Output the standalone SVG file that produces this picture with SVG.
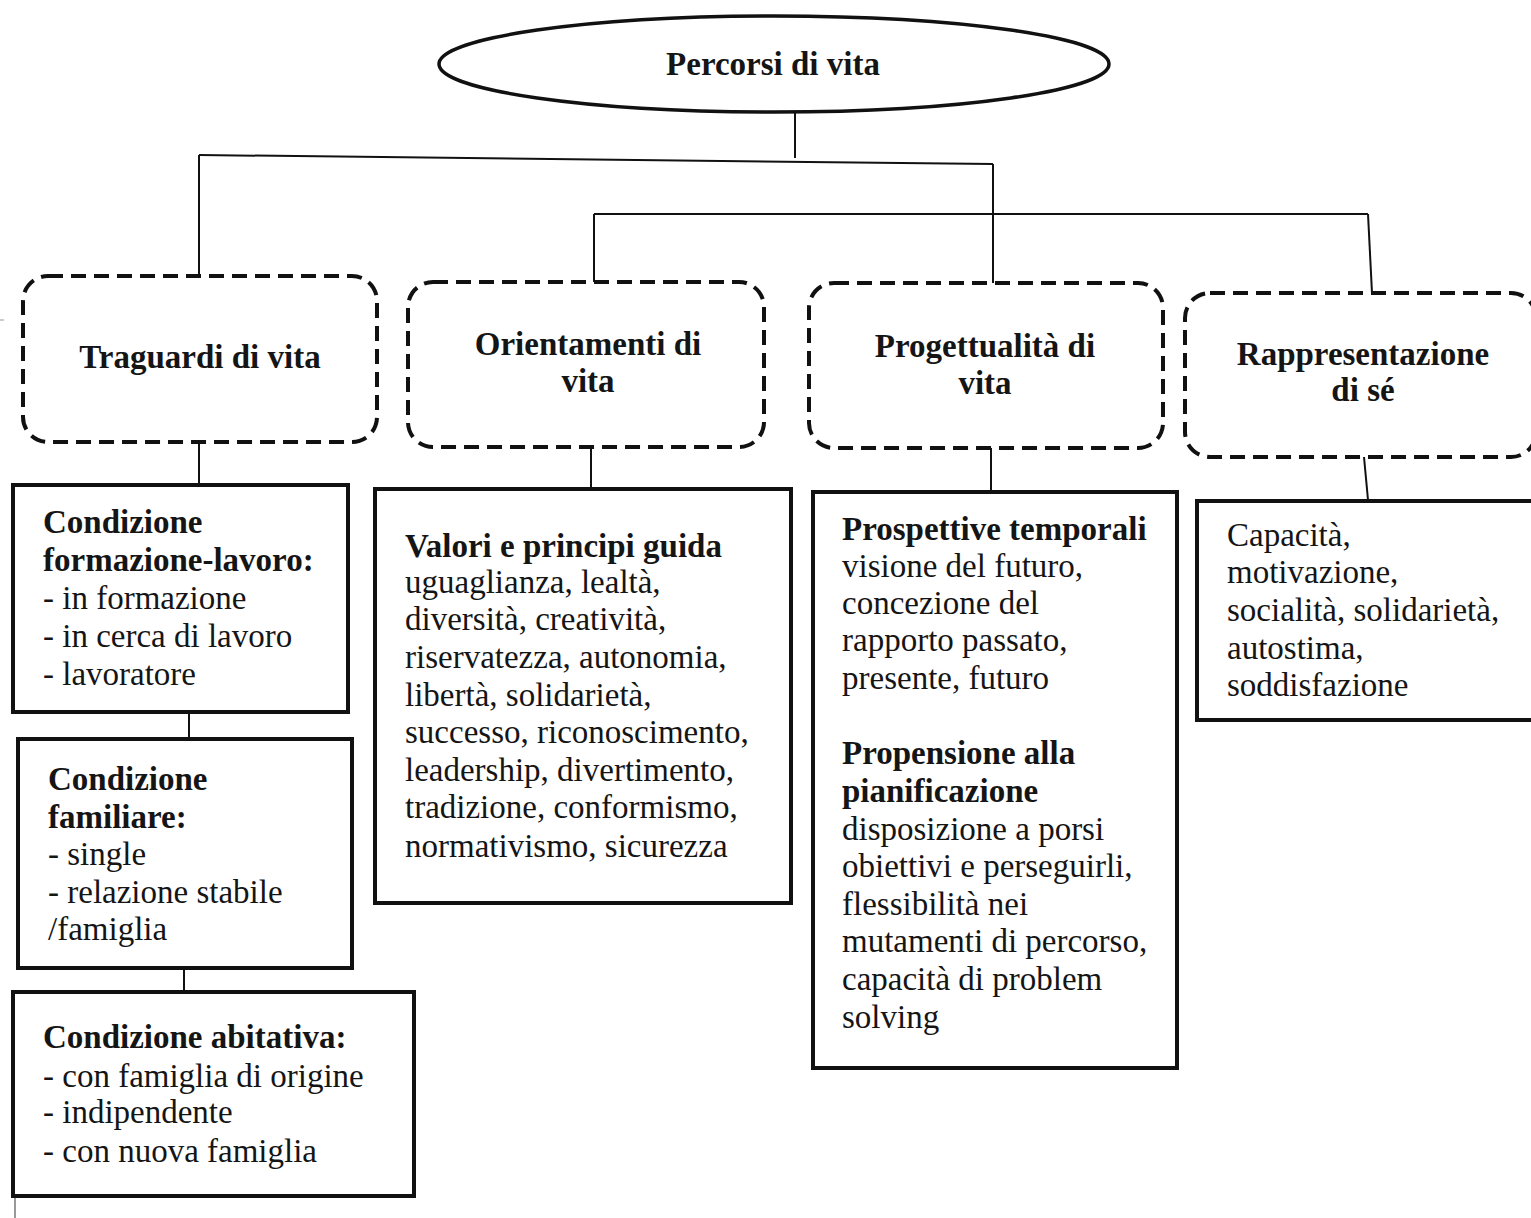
<svg xmlns="http://www.w3.org/2000/svg" width="1531" height="1218" viewBox="0 0 1531 1218">
<style>
text{font-family:"Liberation Serif","Times New Roman",serif;font-size:33px;fill:#151515}
.b{font-weight:bold}
.c{text-anchor:middle}
.dash{fill:#fff;stroke:#111;stroke-width:4;stroke-dasharray:15 8}
.box{fill:#fff;stroke:#111;stroke-width:4}
.ln{fill:none;stroke:#111;stroke-width:2}
</style>
<rect width="1531" height="1218" fill="#fff"/>
<g id="connectors">
<line class="ln" x1="795" y1="113" x2="795" y2="158"/>
<line class="ln" x1="199" y1="155" x2="993" y2="164"/>
<line class="ln" x1="199" y1="155" x2="199" y2="275"/>
<line class="ln" x1="993" y1="164" x2="993" y2="283"/>
<line class="ln" x1="594" y1="214" x2="1368" y2="214"/>
<line class="ln" x1="594" y1="214" x2="594" y2="282"/>
<line class="ln" x1="1368" y1="214" x2="1372" y2="293"/>
<line class="ln" x1="199" y1="442" x2="199" y2="487"/>
<line class="ln" x1="591" y1="447" x2="591" y2="489"/>
<line class="ln" x1="991" y1="448" x2="991" y2="492"/>
<line class="ln" x1="1364" y1="457" x2="1368" y2="500"/>
<line class="ln" x1="189" y1="712" x2="189" y2="739"/>
<line class="ln" x1="184" y1="968" x2="184" y2="992"/>
<line x1="15" y1="1196" x2="15" y2="1218" stroke="#777" stroke-width="1.5"/>
<line x1="0" y1="320" x2="4" y2="320" stroke="#999" stroke-width="1"/>
</g>
<g id="root">
<ellipse cx="774" cy="64" rx="335" ry="48" fill="#fff" stroke="#111" stroke-width="3.5"/>
<text class="b c" x="773" y="75">Percorsi di vita</text>
</g>
<g id="traguardi">
<rect class="dash" x="23" y="276" width="354" height="166" rx="25"/>
<text class="b c" x="200" y="368">Traguardi di vita</text>
</g>
<g id="orientamenti">
<rect class="dash" x="408" y="282" width="356" height="165" rx="25"/>
<text class="b c" x="588" y="355">Orientamenti di</text>
<text class="b c" x="588" y="392">vita</text>
</g>
<g id="progettualita">
<rect class="dash" x="809" y="283" width="354" height="165" rx="25"/>
<text class="b c" x="985" y="357">Progettualità di</text>
<text class="b c" x="985" y="394">vita</text>
</g>
<g id="rappresentazione">
<rect class="dash" x="1185" y="293" width="351" height="164" rx="25"/>
<text class="b c" x="1363" y="365">Rappresentazione</text>
<text class="b c" x="1363" y="401">di sé</text>
</g>
<g id="formazione-lavoro">
<rect class="box" x="13" y="485" width="335" height="227"/>
<text class="b" x="43" y="533">Condizione</text>
<text class="b" x="43" y="571">formazione-lavoro:</text>
<text x="43" y="609">- in formazione</text>
<text x="43" y="647">- in cerca di lavoro</text>
<text x="43" y="685">- lavoratore</text>
</g>
<g id="familiare">
<rect class="box" x="18" y="739" width="334" height="229"/>
<text class="b" x="48" y="790">Condizione</text>
<text class="b" x="48" y="828">familiare:</text>
<text x="48" y="865">- single</text>
<text x="48" y="903">- relazione stabile</text>
<text x="48" y="940">/famiglia</text>
</g>
<g id="abitativa">
<rect class="box" x="13" y="992" width="401" height="204"/>
<text class="b" x="43" y="1048">Condizione abitativa:</text>
<text x="43" y="1087">- con famiglia di origine</text>
<text x="43" y="1123">- indipendente</text>
<text x="43" y="1162">- con nuova famiglia</text>
</g>
<g id="valori">
<rect class="box" x="375" y="489" width="416" height="414"/>
<text class="b" x="405" y="557">Valori e principi guida</text>
<text x="405" y="593">uguaglianza, lealtà,</text>
<text x="405" y="630">diversità, creatività,</text>
<text x="405" y="668">riservatezza, autonomia,</text>
<text x="405" y="706">libertà, solidarietà,</text>
<text x="405" y="743">successo, riconoscimento,</text>
<text x="405" y="781">leadership, divertimento,</text>
<text x="405" y="818">tradizione, conformismo,</text>
<text x="405" y="857">normativismo, sicurezza</text>
</g>
<g id="prospettive">
<rect class="box" x="813" y="492" width="364" height="576"/>
<text class="b" x="842" y="540">Prospettive temporali</text>
<text x="842" y="577">visione del futuro,</text>
<text x="842" y="614">concezione del</text>
<text x="842" y="651">rapporto passato,</text>
<text x="842" y="689">presente, futuro</text>
<text class="b" x="842" y="764">Propensione alla</text>
<text class="b" x="842" y="802">pianificazione</text>
<text x="842" y="840">disposizione a porsi</text>
<text x="842" y="877">obiettivi e perseguirli,</text>
<text x="842" y="915">flessibilità nei</text>
<text x="842" y="952">mutamenti di percorso,</text>
<text x="842" y="990">capacità di problem</text>
<text x="842" y="1028">solving</text>
</g>
<g id="capacita">
<rect class="box" x="1197" y="501" width="345" height="219"/>
<text x="1227" y="546">Capacità,</text>
<text x="1227" y="583">motivazione,</text>
<text x="1227" y="621">socialità, solidarietà,</text>
<text x="1227" y="659">autostima,</text>
<text x="1227" y="696">soddisfazione</text>
</g>
</svg>
